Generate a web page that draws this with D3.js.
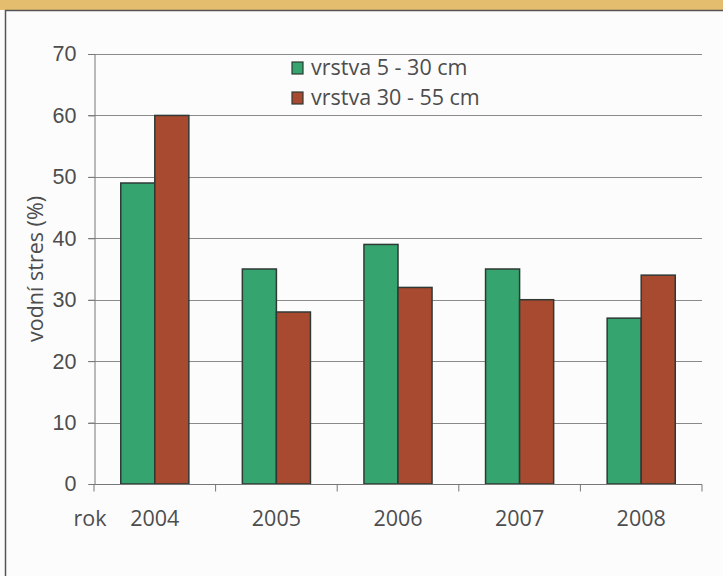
<!DOCTYPE html>
<html>
<head>
<meta charset="utf-8">
<script src="https://cdn.jsdelivr.net/npm/d3@7"></script>
<style>
  body { margin: 0; background: #fff; }
  svg { display: block; font-family: "Open Sans", "Noto Sans", sans-serif; }
</style>
</head>
<body>
<svg width="723" height="576"></svg>
<script>
// Data
const years = ["2004", "2005", "2006", "2007", "2008"];
const layerTop = [49, 35, 39, 35, 27];     // vrstva 5 - 30 cm
const layerDeep = [60, 28, 32, 30, 34];    // vrstva 30 - 55 cm
const seriesNames = ["vrstva 5 - 30 cm", "vrstva 30 - 55 cm"];
const seriesColors = ["#35a46f", "#a84a2f"];
const yTicks = [0, 10, 20, 30, 40, 50, 60, 70];

const svg = d3.select("svg"),
    width = +svg.attr("width"),
    height = +svg.attr("height");

const margin = { left: 94, right: 21, top: 54, bottom: 92 };
const fontSize = 21.5;
const textColor = "#4d4d4d";

// page background + top band + frame
svg.append("rect").attr("width", width).attr("height", height).attr("fill", "#fcfcfd");
svg.append("rect").attr("width", width).attr("height", 10).attr("fill", "#e4bd6e");
svg.append("line").attr("x1", 5).attr("x2", width).attr("y1", 10.5).attr("y2", 10.5)
    .attr("stroke", "#555").attr("stroke-width", 1.5);
svg.append("line").attr("x1", 5.5).attr("x2", 5.5).attr("y1", 10).attr("y2", height)
    .attr("stroke", "#555").attr("stroke-width", 1.5);

const x = d3.scaleBand()
    .domain(years)
    .range([margin.left, width - margin.right])
    .paddingInner(0.44)
    .paddingOuter(0.22);

const xSub = d3.scaleBand()
    .domain([0, 1])
    .range([0, x.bandwidth()]);

const y = d3.scaleLinear()
    .domain([0, 70])
    .range([height - margin.bottom, margin.top]);

// gridlines
svg.append("g")
    .selectAll("line")
    .data(yTicks.filter(d => d > 0))
    .enter().append("line")
    .attr("x1", margin.left - 6)
    .attr("x2", width - margin.right)
    .attr("y1", d => Math.round(y(d)) + 0.5)
    .attr("y2", d => Math.round(y(d)) + 0.5)
    .attr("stroke", "#8a8a8a")
    .attr("stroke-width", 1);

// y axis
const yAxis = svg.append("g")
    .attr("transform", `translate(${margin.left + 0.5},0)`)
    .call(d3.axisLeft(y).tickValues(yTicks).tickSize(6).tickPadding(12));
yAxis.select(".domain").attr("stroke", "#777");
yAxis.selectAll(".tick line").attr("stroke", "#777");
yAxis.selectAll("text").attr("font-size", fontSize).attr("fill", textColor);

// bars
const rows = years.map((yr, i) => ({ year: yr, values: [layerTop[i], layerDeep[i]] }));
svg.append("g")
    .selectAll("g")
    .data(rows)
    .enter().append("g")
    .attr("transform", d => `translate(${x(d.year)},0)`)
    .selectAll("rect")
    .data(d => d.values.map((v, k) => ({ v, k })))
    .enter().append("rect")
    .attr("x", d => xSub(d.k))
    .attr("y", d => y(d.v))
    .attr("width", xSub.bandwidth())
    .attr("height", d => y(0) - y(d.v))
    .attr("fill", d => seriesColors[d.k])
    .attr("stroke", "#2f3a36")
    .attr("stroke-width", 1.5);

// x axis with ticks at band edges
const xAxisG = svg.append("g")
    .attr("transform", `translate(0,${y(0) + 0.5})`);
xAxisG.append("line")
    .attr("x1", margin.left).attr("x2", width - margin.right)
    .attr("stroke", "#777");
const step = x.step();
const edges = years.map(d => x(d) - x.paddingInner() * step / 2).concat([width - margin.right]);
xAxisG.selectAll(".edge")
    .data(edges)
    .enter().append("line")
    .attr("class", "edge")
    .attr("x1", d => d).attr("x2", d => d)
    .attr("y1", 0).attr("y2", 7)
    .attr("stroke", "#777");
xAxisG.selectAll(".lbl")
    .data(years)
    .enter().append("text")
    .attr("class", "lbl")
    .attr("x", d => x(d) + x.bandwidth() / 2)
    .attr("y", 41)
    .attr("text-anchor", "middle")
    .attr("font-size", fontSize)
    .attr("fill", textColor)
    .text(d => d);

// axis titles
svg.append("text")
    .attr("x", 90)
    .attr("y", y(0) + 42)
    .attr("text-anchor", "middle")
    .attr("font-size", fontSize)
    .attr("fill", textColor)
    .text("rok");

svg.append("text")
    .attr("transform", `translate(43,${(y(0) + y(70)) / 2}) rotate(-90)`)
    .attr("text-anchor", "middle")
    .attr("font-size", fontSize)
    .attr("fill", textColor)
    .text("vodní stres (%)");

// legend
const legend = svg.append("g")
    .attr("transform", "translate(292,62)");
const item = legend.selectAll("g")
    .data(seriesNames)
    .enter().append("g")
    .attr("transform", (d, i) => `translate(0,${i * 30})`);
item.append("rect")
    .attr("width", 11).attr("height", 12)
    .attr("fill", (d, i) => seriesColors[i])
    .attr("stroke", "#2f3a36")
    .attr("stroke-width", 1.2);
item.append("text")
    .attr("x", 19)
    .attr("y", 13)
    .attr("font-size", fontSize)
    .attr("fill", textColor)
    .text(d => d);
</script>
</body>
</html>
